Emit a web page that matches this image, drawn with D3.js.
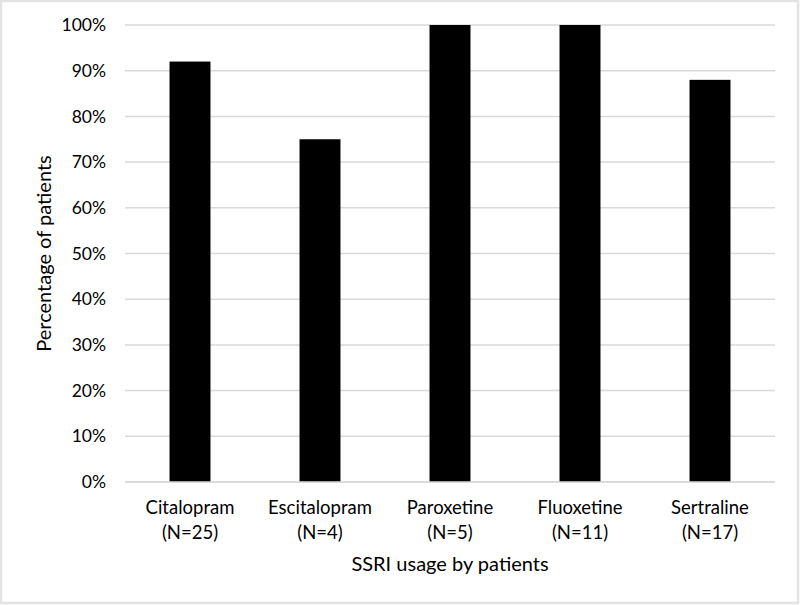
<!DOCTYPE html>
<html>
<head>
<meta charset="utf-8">
<script src="https://cdn.jsdelivr.net/npm/d3@7"></script>
<style>
  html, body { margin: 0; padding: 0; background: #fff; }
  svg { display: block; }
  text { font-family: "Lato", "Open Sans", sans-serif; fill: #000; }
</style>
</head>
<body>
<script>
const categories = ["Citalopram", "Escitalopram", "Paroxetine", "Fluoxetine", "Sertraline"];
const counts = ["(N=25)", "(N=4)", "(N=5)", "(N=11)", "(N=17)"];
const values = [0.92, 0.75, 1.00, 1.00, 0.88];
const yTicks = [0, 0.1, 0.2, 0.3, 0.4, 0.5, 0.6, 0.7, 0.8, 0.9, 1.0];

const W = 800, H = 605;
const margin = { left: 125, right: 25, top: 25, bottom: 123 };

const svg = d3.select("body").append("svg").attr("width", W).attr("height", H);

// outer border
svg.append("rect").attr("x", 1).attr("y", 1).attr("width", W - 3).attr("height", H - 3)
  .attr("fill", "#fff").attr("stroke", "#e3e3e3").attr("stroke-width", 2.5);

const x = d3.scaleBand().domain(categories)
  .range([margin.left, W - margin.right]).padding(0);
const y = d3.scaleLinear().domain([0, 1]).range([H - margin.bottom, margin.top]);

// gridlines
svg.append("g").selectAll("line").data(yTicks).join("line")
  .attr("x1", margin.left).attr("x2", W - margin.right)
  .attr("y1", d => y(d)).attr("y2", d => y(d))
  .attr("stroke", "#d9d9d9").attr("stroke-width", 1.5);

// y tick labels
svg.append("g").selectAll("text").data(yTicks).join("text")
  .attr("x", 106).attr("y", d => y(d)).attr("dy", "0.35em")
  .attr("text-anchor", "end").attr("font-size", 17.5)
  .text(d => d3.format(".0%")(d));

// bars
const barW = x.bandwidth() * 0.315;
svg.append("g").selectAll("rect").data(values).join("rect")
  .attr("x", (d, i) => x(categories[i]) + x.bandwidth() / 2 - barW / 2)
  .attr("width", barW)
  .attr("y", d => y(d))
  .attr("height", d => y(0) - y(d))
  .attr("fill", "#000");

// baseline
svg.append("line").attr("x1", margin.left).attr("x2", W - margin.right)
  .attr("y1", y(0)).attr("y2", y(0)).attr("stroke", "#d9d9d9").attr("stroke-width", 1.5);

// category labels
const cl = svg.append("g");
cl.selectAll("text.cat").data(categories).join("text").attr("class", "cat")
  .attr("x", d => x(d) + x.bandwidth() / 2).attr("y", 514)
  .attr("text-anchor", "middle").attr("font-size", 18.5).text(d => d);
cl.selectAll("text.n").data(counts).join("text").attr("class", "n")
  .attr("x", (d, i) => x(categories[i]) + x.bandwidth() / 2).attr("y", 539)
  .attr("text-anchor", "middle").attr("font-size", 18.5).text(d => d);

// axis titles
svg.append("text").attr("x", (margin.left + W - margin.right) / 2).attr("y", 571)
  .attr("text-anchor", "middle").attr("font-size", 20).text("SSRI usage by patients");
svg.append("text")
  .attr("transform", `translate(51,${(y(0) + y(1)) / 2}) rotate(-90)`)
  .attr("text-anchor", "middle").attr("font-size", 20).text("Percentage of patients");
</script>
</body>
</html>
